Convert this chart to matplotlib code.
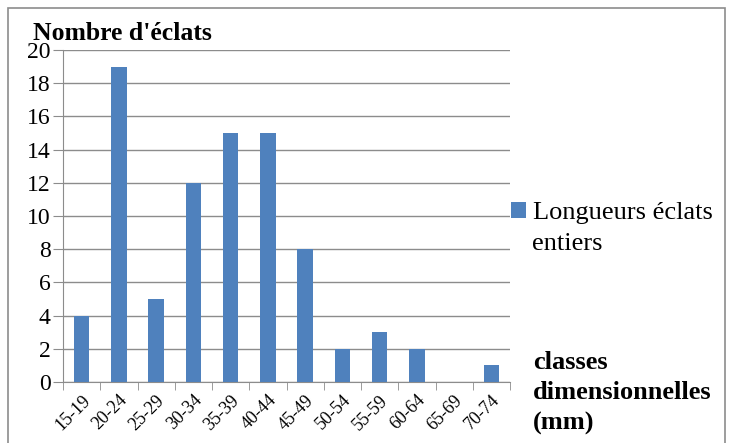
import matplotlib.pyplot as plt
from matplotlib.patches import Rectangle
import numpy as np

plt.rcParams['font.family'] = ['Liberation Serif', 'DejaVu Serif']

classes = ['15-19', '20-24', '25-29', '30-34', '35-39', '40-44',
           '45-49', '50-54', '55-59', '60-64', '65-69', '70-74']
nombre = [4, 19, 5, 12, 15, 15, 8, 2, 3, 2, 0, 1]

bleu = '#4F81BD'
gris = '#8C8C8C'

fig = plt.figure(figsize=(7.3, 4.43), dpi=100)
ax = fig.add_axes([63 / 730, 1 - 382 / 443, (510 - 63) / 730, (382 - 50) / 443])

x = np.arange(len(classes))
ax.bar(x, nombre, width=0.42, color=bleu, label='Longueurs éclats', zorder=3)

ax.set_xlim(-0.5, len(classes) - 0.5)
ax.set_ylim(0, 20)
ax.set_yticks(range(0, 21, 2))
ax.yaxis.grid(True, color=gris, linewidth=1)
ax.set_axisbelow(True)

ax.set_xticks(x)
ax.set_xticklabels(classes, rotation=45, ha='right', rotation_mode='anchor', fontsize=13)
ax.set_xticks(np.arange(-0.5, len(classes)), minor=True)
ax.tick_params(axis='x', which='major', length=0, pad=7)
ax.tick_params(axis='x', which='minor', length=6, color=gris, direction='out')
ax.tick_params(axis='y', labelsize=17, length=7, color=gris, pad=2)

for s in ['top', 'right']:
    ax.spines[s].set_visible(False)
for s in ['left', 'bottom']:
    ax.spines[s].set_color(gris)

fig.text(33 / 730, 1 - 33 / 443, "Nombre d'éclats", fontsize=18.5, fontweight='bold',
         va='center', ha='left')
fig.text(533 / 730, 1 - 393 / 443, 'classes\ndimensionnelles\n(mm)', fontsize=19,
         fontweight='bold', va='center', ha='left', linespacing=1.4)

ax.legend(loc='center left', bbox_to_anchor=(511 / 730, 1 - 213 / 443),
          bbox_transform=fig.transFigure, frameon=False, fontsize=19,
          handlelength=0.55, handleheight=0.55, handletextpad=0.3, borderaxespad=0,
          borderpad=0)
fig.text(532 / 730, 1 - 244 / 443, 'entiers', fontsize=19, va='center', ha='left')

fig.patches.append(Rectangle((8 / 730, -0.05), (725 - 8) / 730, 1 - 8 / 443 + 0.05,
                             transform=fig.transFigure, fill=False, edgecolor=gris,
                             linewidth=1.2))

fig.savefig('out.png', dpi=100)
